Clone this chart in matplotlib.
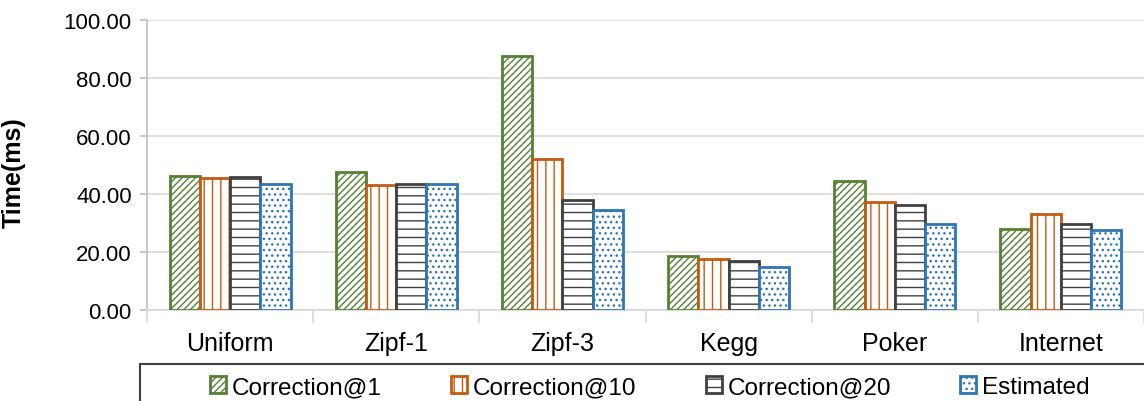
import numpy as np
import matplotlib.pyplot as plt
from matplotlib.patches import Rectangle

# data
datasets = ['Uniform', 'Zipf-1', 'Zipf-3', 'Kegg', 'Poker', 'Internet']
series_names = ['Correction@1', 'Correction@10', 'Correction@20', 'Estimated']
corr1 = [46.2, 47.5, 87.7, 18.6, 44.5, 28.0]
corr10 = [45.4, 43.2, 52.1, 17.7, 37.2, 33.2]
corr20 = [46.0, 43.6, 38.0, 16.8, 36.3, 29.7]
estimated = [43.3, 43.6, 34.5, 14.7, 29.7, 27.7]
yticks = [0, 20, 40, 60, 80, 100]

plt.rcParams['font.family'] = ['Liberation Sans', 'DejaVu Sans']
plt.rcParams['hatch.linewidth'] = 1.0

fig = plt.figure(figsize=(11.44, 4.02), dpi=100)
ax = fig.add_axes([0.1285, 0.2264, 0.8715, 0.7214])

colors = ['#548235', '#C55A11', '#404040', '#2E75B6']
hatches = ['/////', '||', '--', '...']
values = [corr1, corr10, corr20, estimated]

x = np.arange(len(datasets))
w = 0.182
for i, (vals, col, h, name) in enumerate(zip(values, colors, hatches, series_names)):
    plt.rcParams['hatch.color'] = col
    ax.bar(x + (i - 1.5) * w, vals, w, facecolor='white', edgecolor=col,
           hatch=h, linewidth=2, label=name, zorder=3)

ax.set_xlim(-0.5, len(datasets) - 0.5)
ax.set_ylim(0, 100)
ax.set_yticks(yticks)
ax.set_yticklabels(['%.2f' % t for t in yticks], fontsize=16)
ax.yaxis.grid(True, color='#D9D9D9', linewidth=1.2, zorder=0)
ax.set_axisbelow(True)

ax.set_xticks(x)
ax.set_xticklabels(datasets, fontsize=18)
ax.tick_params(axis='x', length=0, pad=15)
# category separators below the axis
ax.set_xticks(np.arange(len(datasets) + 1) - 0.5, minor=True)
ax.tick_params(axis='x', which='minor', length=9, color='#D9D9D9', width=1.2)
ax.tick_params(axis='y', length=5, color='#BFBFBF', width=1.2, pad=6)

for s in ['top', 'right']:
    ax.spines[s].set_visible(False)
ax.spines['left'].set_color('#BFBFBF')
ax.spines['bottom'].set_color('#D9D9D9')
ax.spines['left'].set_linewidth(1.2)
ax.spines['bottom'].set_linewidth(1.2)

ax.set_ylabel('Time(ms)', fontsize=18, fontweight='bold')
ax.yaxis.set_label_coords(-0.122, 0.476)

# legend box running off the right and bottom edges
fig.patches.append(Rectangle((140 / 1144, -0.05), 1.0, 1 - 365 / 402 + 0.05,
                             transform=fig.transFigure, fill=False,
                             edgecolor='#404040', linewidth=1.5))
fig.legend(loc='center left', bbox_to_anchor=(210 / 1144, 1 - 388 / 402), ncol=4,
           frameon=False, fontsize=17.5, borderpad=0, borderaxespad=0,
           handlelength=0.66, handleheight=0.66, handletextpad=0.25,
           columnspacing=2.84)

fig.savefig('out.png', dpi=100)
